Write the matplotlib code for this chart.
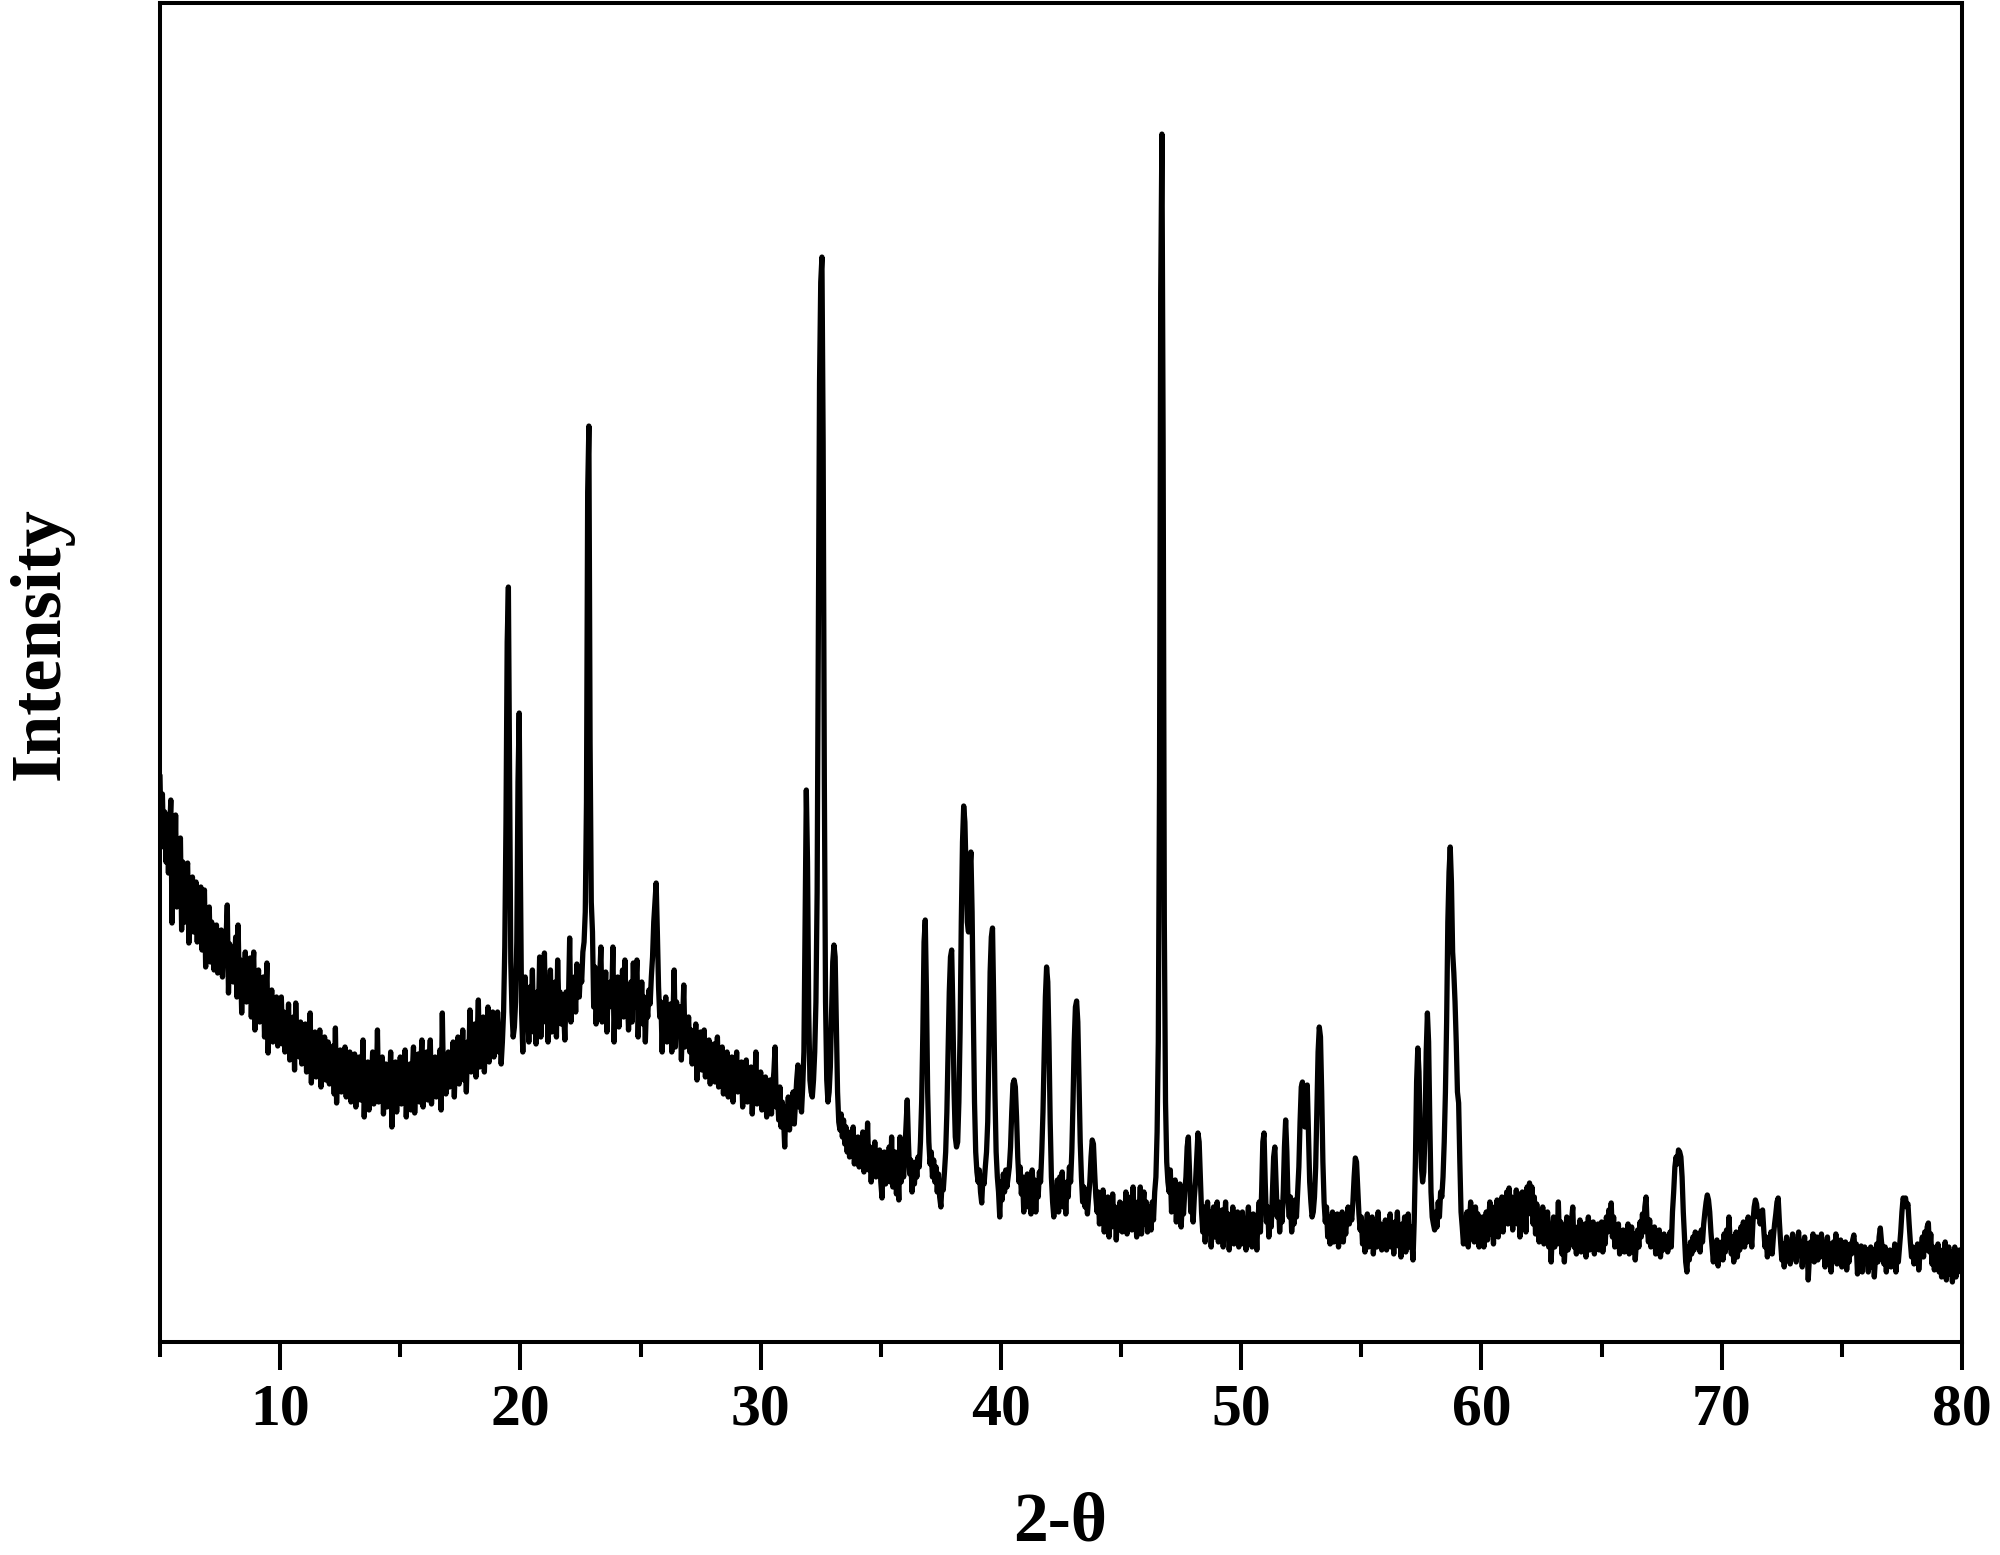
import numpy as np
import matplotlib
matplotlib.use("Agg")
import matplotlib.pyplot as plt
from matplotlib.ticker import MultipleLocator

# ---- data: XRD pattern, 2-theta from 5 to 80 deg, step 0.05 deg ----
start_angle = 5.0
step_angle = 0.05

intensity_05_10 = [
    565, 500, 548, 495, 530, 480, 515, 469, 510, 542, 419, 495, 455, 527, 435, 490, 470, 504, 412, 480,
    455, 420, 470, 479, 399, 445, 425, 465, 410, 440, 460, 400, 448, 415, 455, 392, 430, 452, 375, 425,
    400, 435, 380, 420, 398, 372, 410, 417, 369, 400, 385, 412, 365, 395, 380, 405, 437, 349, 398, 375,
    392, 360, 380, 405, 345, 417, 355, 382, 329, 375, 360, 390, 340, 372, 355, 384, 325, 368, 390, 312,
    360, 338, 372, 320, 350, 332, 365, 305, 342, 379, 289, 340, 325, 352, 300, 338, 318, 345, 296, 330,
]
intensity_10_15 = [
    312, 345, 298, 330, 290, 322, 305, 338, 282, 318, 300, 325, 272, 339, 295, 310, 285, 320, 278, 305,
    292, 318, 270, 305, 285, 329, 259, 298, 280, 310, 265, 300, 288, 312, 255, 292, 275, 305, 262, 290,
    300, 258, 285, 270, 296, 248, 314, 239, 280, 262, 292, 250, 278, 265, 295, 245, 282, 258, 290, 240,
    275, 252, 288, 235, 270, 260, 285, 242, 268, 302, 225, 265, 250, 280, 232, 270, 258, 290, 238, 265,
    250, 312, 240, 272, 255, 285, 228, 262, 278, 235, 268, 248, 290, 215, 260, 245, 280, 230, 265, 252,
]
intensity_15_20 = [
    285, 238, 270, 255, 292, 225, 262, 248, 278, 232, 270, 295, 229, 265, 250, 288, 240, 272, 302, 235,
    268, 250, 290, 242, 275, 302, 238, 270, 255, 285, 245, 278, 262, 292, 232, 329, 258, 280, 248, 275,
    290, 255, 282, 268, 300, 245, 285, 270, 305, 258, 290, 275, 312, 262, 295, 250, 300, 280, 332, 270,
    298, 280, 318, 265, 305, 342, 275, 300, 288, 325, 270, 310, 295, 335, 280, 315, 300, 330, 285, 320,
    305, 330, 290, 312, 278, 300, 330, 395, 520, 700, 755, 560, 380, 330, 305, 315, 340, 400, 560, 629,
]
intensity_20_25 = [
    470, 330, 290, 345, 365, 320, 345, 300, 355, 330, 372, 310, 340, 298, 350, 325, 385, 305, 345, 330,
    389, 320, 355, 300, 345, 372, 310, 350, 328, 360, 305, 382, 335, 350, 318, 345, 330, 302, 350, 335,
    340, 404, 320, 360, 338, 365, 330, 378, 355, 345, 372, 360, 390, 400, 430, 540, 850, 916, 600, 440,
    410, 335, 375, 318, 352, 330, 365, 395, 320, 355, 340, 370, 310, 350, 335, 360, 345, 395, 300, 350,
    332, 365, 315, 355, 340, 372, 325, 382, 330, 350, 312, 345, 360, 320, 379, 335, 355, 382, 305, 345,
]
intensity_25_30 = [
    330, 360, 318, 345, 300, 340, 325, 352, 338, 365, 385, 420, 440, 459, 410, 355, 325, 340, 290, 335,
    318, 345, 300, 330, 312, 338, 290, 325, 372, 295, 340, 320, 310, 335, 282, 322, 357, 295, 318, 300,
    325, 290, 312, 278, 305, 290, 318, 262, 300, 285, 310, 272, 295, 312, 265, 290, 278, 302, 258, 288,
    272, 298, 260, 285, 305, 255, 280, 268, 295, 248, 278, 262, 290, 245, 272, 258, 285, 240, 275, 262,
    290, 250, 270, 255, 280, 235, 265, 252, 282, 240, 268, 245, 275, 228, 262, 250, 290, 238, 258, 245,
]
intensity_30_35 = [
    270, 232, 255, 240, 265, 225, 250, 238, 262, 228, 255, 270, 295, 235, 248, 222, 255, 215, 240, 225,
    195, 235, 220, 245, 212, 238, 225, 250, 218, 240, 262, 277, 235, 248, 230, 255, 290, 420, 552, 480,
    330, 262, 250, 245, 262, 290, 340, 450, 700, 960, 1060, 1085, 900, 560, 340, 262, 240, 250, 275, 330,
    380, 397, 385, 320, 250, 220, 212, 228, 205, 222, 198, 215, 190, 210, 185, 205, 192, 215, 178, 200,
    188, 205, 175, 198, 182, 210, 170, 192, 178, 219, 172, 195, 160, 188, 175, 200, 165, 185, 170, 192,
]
intensity_35_40 = [
    160, 144, 178, 190, 158, 182, 168, 195, 160, 205, 155, 178, 190, 148, 172, 142, 205, 160, 180, 165,
    190, 215, 242, 200, 168, 182, 150, 172, 158, 180, 165, 185, 175, 200, 240, 310, 400, 422, 350, 250,
    200, 178, 190, 165, 182, 160, 175, 150, 168, 145, 135, 160, 152, 170, 190, 230, 290, 350, 385, 392,
    330, 250, 205, 195, 200, 240, 310, 420, 500, 536, 520, 470, 420, 410, 470, 490, 430, 330, 240, 190,
    170, 160, 172, 150, 139, 165, 158, 175, 190, 220, 290, 370, 405, 414, 340, 250, 190, 165, 150, 125,
]
intensity_40_45 = [
    160, 142, 168, 150, 172, 155, 165, 175, 195, 230, 258, 262, 255, 225, 185, 160, 175, 148, 165, 130,
    155, 140, 168, 135, 160, 128, 172, 150, 162, 130, 158, 145, 170, 160, 190, 230, 290, 345, 375, 360,
    300, 220, 165, 140, 125, 150, 138, 162, 130, 165, 145, 170, 135, 155, 128, 160, 145, 175, 160, 190,
    240, 300, 335, 341, 320, 260, 200, 165, 140, 155, 135, 150, 128, 145, 160, 185, 202, 198, 170, 145,
    130, 150, 118, 140, 125, 152, 110, 138, 122, 145, 105, 130, 115, 148, 120, 135, 102, 128, 112, 140,
]
intensity_45_50 = [
    125, 110, 138, 118, 150, 108, 132, 120, 145, 112, 155, 118, 130, 105, 140, 125, 155, 108, 135, 150,
    118, 140, 110, 128, 135, 112, 140, 122, 150, 165, 210, 300, 560, 1050, 1208, 900, 420, 240, 180, 160,
    150, 172, 130, 155, 138, 162, 120, 148, 135, 158, 115, 140, 128, 150, 165, 195, 205, 170, 130, 150,
    120, 145, 160, 185, 209, 200, 165, 130, 110, 135, 100, 125, 140, 112, 130, 95, 120, 135, 105, 128,
    140, 100, 125, 110, 132, 95, 118, 140, 105, 128, 92, 120, 108, 135, 98, 122, 110, 130, 95, 115,
]
intensity_50_55 = [
    108, 130, 98, 122, 92, 115, 135, 100, 120, 95, 128, 105, 118, 92, 125, 140, 110, 150, 200, 209,
    160, 120, 135, 105, 128, 115, 150, 185, 195, 160, 125, 140, 110, 132, 120, 150, 195, 222, 190, 140,
    125, 145, 110, 130, 118, 142, 125, 150, 175, 220, 255, 260, 230, 215, 250, 257, 210, 160, 140, 125,
    130, 145, 175, 230, 290, 315, 305, 250, 180, 140, 120, 135, 105, 125, 98, 118, 130, 100, 122, 110,
    128, 95, 115, 105, 130, 100, 120, 108, 125, 135, 118, 130, 122, 140, 165, 184, 180, 155, 128, 112,
]
intensity_55_60 = [
    125, 98, 118, 90, 112, 128, 95, 115, 102, 125, 88, 110, 120, 95, 130, 100, 118, 92, 115, 105,
    122, 92, 112, 100, 128, 95, 115, 88, 120, 105, 130, 96, 112, 85, 118, 102, 125, 90, 110, 128,
    95, 115, 100, 82, 120, 180, 260, 294, 270, 210, 175, 160, 170, 210, 290, 329, 300, 220, 150, 125,
    118, 112, 130, 115, 140, 125, 150, 145, 165, 200, 250, 320, 420, 470, 495, 460, 390, 369, 340, 300,
    250, 239, 180, 130, 115, 98, 120, 105, 130, 95, 118, 140, 108, 125, 100, 135, 112, 128, 95, 120,
]
intensity_60_65 = [
    105, 125, 95, 118, 130, 102, 122, 140, 108, 128, 98, 135, 115, 142, 105, 130, 118, 145, 110, 138,
    125, 150, 118, 154, 130, 145, 112, 140, 125, 152, 118, 148, 105, 135, 150, 120, 142, 110, 155, 130,
    159, 128, 155, 118, 145, 108, 138, 125, 100, 130, 112, 135, 98, 122, 108, 130, 95, 115, 80, 110,
    125, 95, 118, 105, 140, 98, 120, 88, 112, 80, 105, 125, 92, 115, 100, 122, 135, 95, 110, 88,
    115, 100, 122, 90, 110, 96, 118, 85, 108, 125, 92, 112, 100, 120, 88, 110, 98, 118, 92, 105,
]
intensity_65_70 = [
    120, 90, 108, 98, 125, 110, 132, 118, 139, 105, 125, 95, 112, 100, 118, 88, 105, 95, 112, 90,
    108, 95, 118, 88, 102, 115, 90, 108, 82, 100, 112, 95, 120, 105, 128, 110, 135, 145, 115, 100,
    122, 95, 110, 98, 115, 88, 105, 95, 112, 85, 100, 92, 108, 96, 102, 90, 98, 110, 95, 130,
    150, 175, 185, 178, 192, 190, 185, 165, 130, 105, 80, 70, 95, 82, 100, 88, 105, 92, 110, 100,
    95, 108, 90, 112, 100, 118, 130, 140, 147, 142, 130, 110, 95, 80, 98, 85, 102, 76, 95, 88,
]
intensity_70_75 = [
    100, 82, 108, 90, 112, 95, 125, 100, 88, 105, 80, 98, 110, 85, 102, 92, 115, 98, 120, 95,
    118, 100, 125, 105, 110, 95, 120, 135, 142, 138, 125, 130, 118, 128, 132, 112, 95, 105, 85, 100,
    92, 110, 88, 105, 118, 128, 140, 144, 120, 100, 82, 98, 75, 92, 105, 85, 100, 78, 95, 108,
    85, 102, 80, 98, 110, 88, 100, 75, 95, 105, 82, 98, 62, 85, 100, 90, 108, 80, 95, 105,
    82, 100, 92, 108, 85, 98, 75, 95, 105, 80, 98, 70, 92, 100, 85, 108, 78, 95, 88, 102,
]
intensity_75_80 = [
    75, 95, 82, 100, 72, 92, 80, 98, 88, 102, 107, 90, 98, 68, 90, 78, 96, 70, 88, 95,
    80, 92, 70, 88, 95, 75, 92, 65, 85, 98, 80, 105, 114, 100, 92, 78, 95, 70, 88, 76,
    92, 75, 90, 82, 98, 70, 88, 80, 95, 110, 130, 144, 140, 144, 135, 138, 118, 100, 85, 95,
    78, 92, 80, 98, 72, 88, 95, 105, 85, 110, 92, 115, 119, 90, 108, 78, 95, 72, 90, 82,
    98, 70, 88, 65, 92, 78, 100, 62, 85, 95, 68, 90, 60, 82, 95, 65, 88, 72, 92, 70,
]
intensity_80 = [85]

blocks = [intensity_05_10, intensity_10_15, intensity_15_20, intensity_20_25,
          intensity_25_30, intensity_30_35, intensity_35_40, intensity_40_45,
          intensity_45_50, intensity_50_55, intensity_55_60, intensity_60_65,
          intensity_65_70, intensity_70_75, intensity_75_80, intensity_80]
for b in blocks[:-1]:
    assert len(b) == 100, len(b)

intensity = np.concatenate([np.asarray(b, dtype=float) for b in blocks])
two_theta = start_angle + step_angle * np.arange(len(intensity))

x_ticks = [10, 20, 30, 40, 50, 60, 70, 80]
x_label = "2-\u03b8"
y_label = "Intensity"

# ---- figure ----
FONT = "Liberation Serif"
fig = plt.figure(figsize=(20, 15.55), dpi=100)
ax = fig.add_axes([0.08, 0.137, 0.901, 0.861])

ax.plot(two_theta, intensity, color="black", lw=3.8, solid_joinstyle="round")

ax.set_xlim(5, 80)
ax.set_ylim(0, 1339)
ax.xaxis.set_major_locator(MultipleLocator(10))
ax.xaxis.set_minor_locator(MultipleLocator(5))
ax.set_xticks(x_ticks)
ax.set_yticks([])

for s in ax.spines.values():
    s.set_linewidth(2.9)
    s.set_color("black")

ax.tick_params(axis="x", which="major", direction="out", length=20, width=2.9,
               pad=10, labelsize=43)
ax.tick_params(axis="x", which="minor", direction="out", length=11, width=2.9)
for lab in ax.get_xticklabels():
    lab.set_fontfamily(FONT)
    lab.set_fontweight("bold")

fig.text(0.53, 0.0096, x_label, ha="center", va="baseline",
         fontsize=50, fontweight="bold", family=[FONT, "DejaVu Serif"])
fig.text(0.0205, 0.586, y_label, ha="center", va="center", rotation=90,
         fontsize=52, fontweight="bold", family=FONT)

fig.savefig("out.png", dpi=100)
